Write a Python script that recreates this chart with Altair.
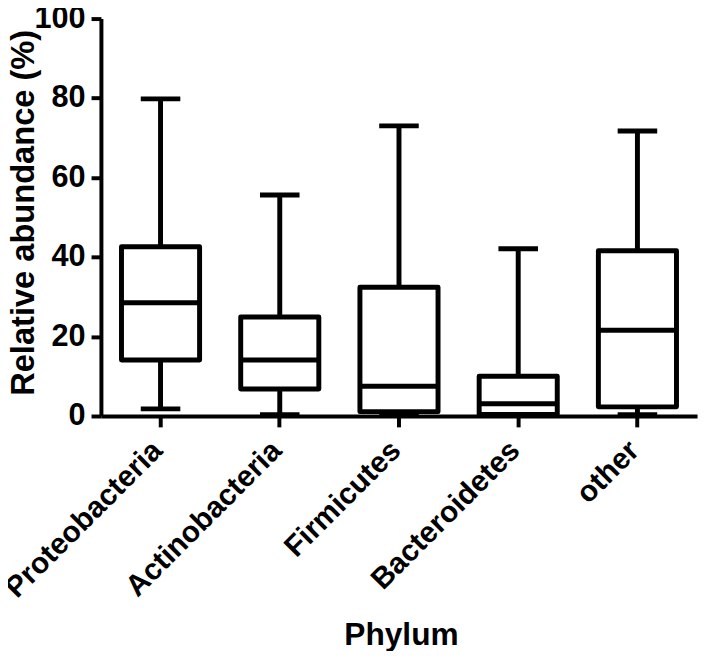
import altair as alt
import pandas as pd

phyla = ["Proteobacteria", "Actinobacteria", "Firmicutes", "Bacteroidetes", "other"]
mins = [1.8, 0.3, 0.2, 0.1, 0.3]
q1s = [14.1, 6.8, 1.1, 0.4, 2.3]
medians = [28.5, 14.1, 7.5, 3.1, 21.6]
q3s = [42.6, 24.9, 32.4, 10.0, 41.6]
maxs = [79.8, 55.6, 73.0, 42.1, 71.7]
y_ticks = [0, 20, 40, 60, 80, 100]

df = pd.DataFrame({"phylum": phyla, "min": mins, "q1": q1s, "median": medians,
                   "q3": q3s, "max": maxs})

FONT = "Liberation Sans"

x_enc = alt.X("phylum:N", sort=phyla,
              scale=alt.Scale(paddingInner=0, paddingOuter=0),
              axis=alt.Axis(title="Phylum", labelAngle=-45, labelFontSize=30,
                            labelFont=FONT, labelFontWeight="bold", labelColor="black",
                            labelLimit=0, labelAlign="right", labelBaseline="middle",
                            labelPadding=19, labelOffset=-3,
                            tickSize=11, tickWidth=4,
                            tickColor="black", domainWidth=4, domainColor="black",
                            titleFont=FONT, titleFontWeight="bold", titleFontSize=32,
                            titleColor="black", titleX=303.5, titleY=231,
                            titleAlign="center", titleBaseline="alphabetic", grid=False))

y_axis = alt.Axis(title="Relative abundance (%)", values=y_ticks, labelFontSize=31,
                  labelFont=FONT, labelFontWeight="bold", labelColor="black",
                  labelPadding=6, tickSize=10, tickWidth=4, tickColor="black",
                  domainWidth=4, domainColor="black",
                  titleFont=FONT, titleFontWeight="bold", titleFontSize=33,
                  titleColor="black", titleX=-68, titleY=196, titleAngle=270,
                  titleAlign="center", titleBaseline="alphabetic", grid=False)

y_scale = alt.Scale(domain=[0, 100], nice=False)

base = alt.Chart(df)

whisker = base.mark_rule(strokeWidth=5, color="black").encode(
    x=x_enc,
    y=alt.Y("min:Q", scale=y_scale, axis=y_axis),
    y2="max:Q",
)

box = base.mark_bar(size=79, fill="white", stroke="black", strokeWidth=5,
                    strokeJoin="round").encode(
    x=x_enc,
    y=alt.Y("q1:Q", scale=y_scale),
    y2="q3:Q",
)

med = base.mark_tick(size=79, thickness=5, color="black", opacity=1).encode(
    x=x_enc,
    y=alt.Y("median:Q", scale=y_scale),
)

cap_top = base.mark_tick(size=40, thickness=5, color="black", opacity=1).encode(
    x=x_enc,
    y=alt.Y("max:Q", scale=y_scale),
)

cap_bot = base.mark_tick(size=40, thickness=5, color="black", opacity=1).encode(
    x=x_enc,
    y=alt.Y("min:Q", scale=y_scale),
)

chart = alt.layer(whisker, box, med, cap_top, cap_bot).properties(
    width=603, height=402,
    autosize=alt.AutoSizeParams(type="none"),
    padding={"left": 94, "top": 7, "right": 4, "bottom": 234},
).configure_view(strokeWidth=0)

chart.save("out.html", embed_options={"renderer": "svg", "actions": False})
